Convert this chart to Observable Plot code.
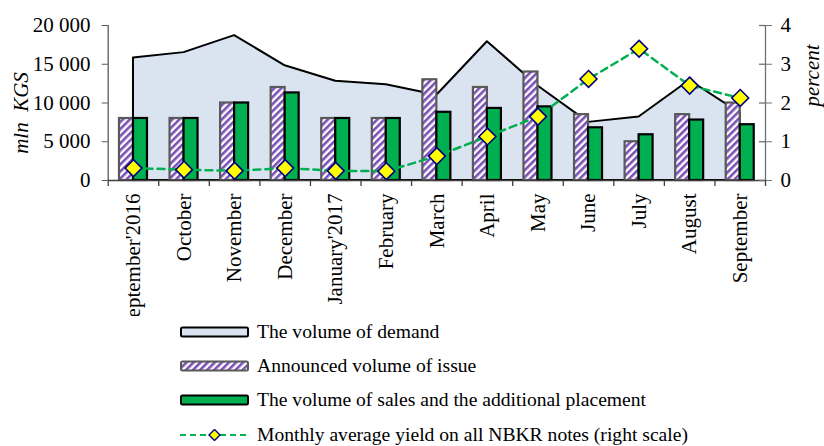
<!DOCTYPE html>
<html><head><meta charset="utf-8">
<script src="https://cdn.jsdelivr.net/npm/d3@7"></script>
<script src="https://cdn.jsdelivr.net/npm/@observablehq/plot@0.6"></script>
<style>
body{margin:0;background:#fff;font-family:"Liberation Serif","Times New Roman",serif;}
#chart svg{display:block}
#legend{margin-left:180px;margin-top:-1.5px}
.row{display:flex;align-items:center;height:34.4px;font-size:19.6px;color:#000;white-space:nowrap}
.row svg{margin-right:8px;flex:none;display:block}
</style></head><body>
<div id="chart"></div>
<div id="legend"></div>
<script>
const months = ["September'2016","October","November","December","January'2017","February","March","April","May","June","July","August","September"];
const demand    = [15800,16500,18700,14800,12800,12350,11000,17900,12200,7500,8200,12900,8700];
const announced = [8000,8000,10000,12000,8000,8000,13000,12000,14000,8500,5000,8500,10000];
const sales     = [8000,8000,10000,11300,8000,8000,8800,9300,9500,6800,5900,7800,7200];
const yieldPct  = [0.32,0.28,0.25,0.32,0.25,0.24,0.63,1.135,1.65,2.62,3.40,2.45,2.13];
const leftTicks = [0,5000,10000,15000,20000];
const rightTicks = [0,1,2,3,4];
const leftMax = 20000, rightMax = 4;
const legendLabels = ["The volume of demand","Announced volume of issue","The volume of sales and the additional placement","Monthly average yield on all NBKR notes (right scale)"];

const k = leftMax / rightMax;
const rows = months.map((m,i)=>({month:m, demand:demand[i], announced:announced[i], sales:sales[i], yld:yieldPct[i]*k}));

const W=824, H=316, ML=107.7, MR=59, MT=25, MB=136;
const fw = W-ML-MR;
const fh = H-MT-MB;
const step = fw/months.length;
const barW = 14;
const fmt = d => d3.format(",")(d).replace(/,/g," ");

const chart = Plot.plot({
  width: W, height: H, marginLeft: ML, marginRight: MR, marginTop: MT, marginBottom: MB,
  style: {fontFamily: "'Liberation Serif','Times New Roman',serif", fontSize: "21px", background: "white", overflow: "hidden", color: "black"},
  x: {domain: months, padding: 0, round: false, axis: null},
  y: {domain: [0, leftMax], axis: null},
  marks: [
    Plot.areaY(rows, {x:"month", y:"demand", fill:"#dae3f0", stroke:"black", strokeWidth:2}),
    Plot.barY(rows, {x:"month", y:"announced", fill:"url(#hatch)", stroke:"#595959", strokeWidth:2.2, insetLeft: step/2 - barW, insetRight: step/2}),
    Plot.barY(rows, {x:"month", y:"sales", fill:"#00b050", stroke:"black", strokeWidth:2.2, insetLeft: step/2, insetRight: step/2 - barW}),
    Plot.line(rows, {x:"month", y:"yld", stroke:"#00b050", strokeWidth:2.5, strokeDasharray:"7,5"}),
    Plot.dot(rows, {x:"month", y:"yld", symbol:"diamond2", r:7.6, fill:"#ffff00", stroke:"#000080", strokeWidth:1.6}),
    // axis lines
    Plot.ruleX([months[0]], {dx: -step/2, stroke:"#595959", strokeWidth:1.3}),
    Plot.ruleX([months[months.length-1]], {dx: step/2, stroke:"#707070", strokeWidth:1.3}),
    Plot.ruleY([0], {stroke:"#404040", strokeWidth:1.5}),
    // x boundary ticks
    Plot.ruleX(months, {dx: -step/2, insetTop: fh, insetBottom: -6, stroke:"#404040", strokeWidth:1.3}),
    Plot.ruleX([months[months.length-1]], {dx: step/2, insetTop: fh, insetBottom: -6, stroke:"#404040", strokeWidth:1.3}),
    // left axis
    Plot.axisY({anchor:"left", ticks:leftTicks, tickFormat: fmt, tickSize:6, tickPadding:11.7, stroke:"#595959", fill:"black", label: null}),
    // right axis
    Plot.axisY({anchor:"right", ticks:rightTicks.map(v=>v*k), tickFormat: d => fmt(d/k), tickSize:6, tickPadding:9, stroke:"#707070", fill:"black", label: null}),
    Plot.ruleY(rightTicks.map(v=>v*k), {insetLeft: fw-6, stroke:"#707070", strokeWidth:1.3}),
    // x labels
    Plot.axisX({tickSize:0, tickPadding:13, tickRotate:-90, fill:"black", label: null}),
    // axis titles
    Plot.text(["mln\u00a0 KGS"], {text: d=>d, frameAnchor:"left", textAnchor:"middle", lineAnchor:"middle", dx: -87.4, dy: 10, rotate:-90, fontStyle:"italic", fontSize:21, fill:"black"}),
    Plot.text(["percent"], {text: d=>d, frameAnchor:"right", textAnchor:"middle", lineAnchor:"middle", dx: 47, dy: -27.5, rotate:-90, fontStyle:"italic", fontSize:21, fill:"black"})
  ]
});

const patDef = (id) => `<pattern id="${id}" patternUnits="userSpaceOnUse" width="5" height="5" patternTransform="rotate(45)"><rect width="5" height="5" fill="#ffffff"/><rect width="2.6" height="5" fill="#7b4fb5"/></pattern>`;
d3.select(chart).insert("defs", ":first-child").html(patDef("hatch"));
document.getElementById("chart").appendChild(chart);

const swatches = [
  `<rect x="1" y="1.5" width="67" height="9" rx="1.5" fill="#dae3f0" stroke="black" stroke-width="2"/>`,
  `<defs>${patDef("hatch2")}</defs><rect x="1" y="1.5" width="67" height="9" rx="1.5" fill="url(#hatch2)" stroke="#595959" stroke-width="2"/>`,
  `<rect x="1" y="1.5" width="67" height="9" rx="1.5" fill="#00b050" stroke="black" stroke-width="2"/>`,
  `<line x1="0" y1="6" x2="69" y2="6" stroke="#00b050" stroke-width="2.2" stroke-dasharray="6,4"/><path d="M34.5,0.5L40,6L34.5,11.5L29,6Z" fill="#ffff00" stroke="#000080" stroke-width="1.4"/>`
];
const leg = d3.select("#legend");
legendLabels.forEach((t,i)=>{
  const r = leg.append("div").attr("class","row");
  r.append("svg").attr("width",69).attr("height",12).html(swatches[i]);
  r.append("span").text(t);
});
</script>
</body></html>
